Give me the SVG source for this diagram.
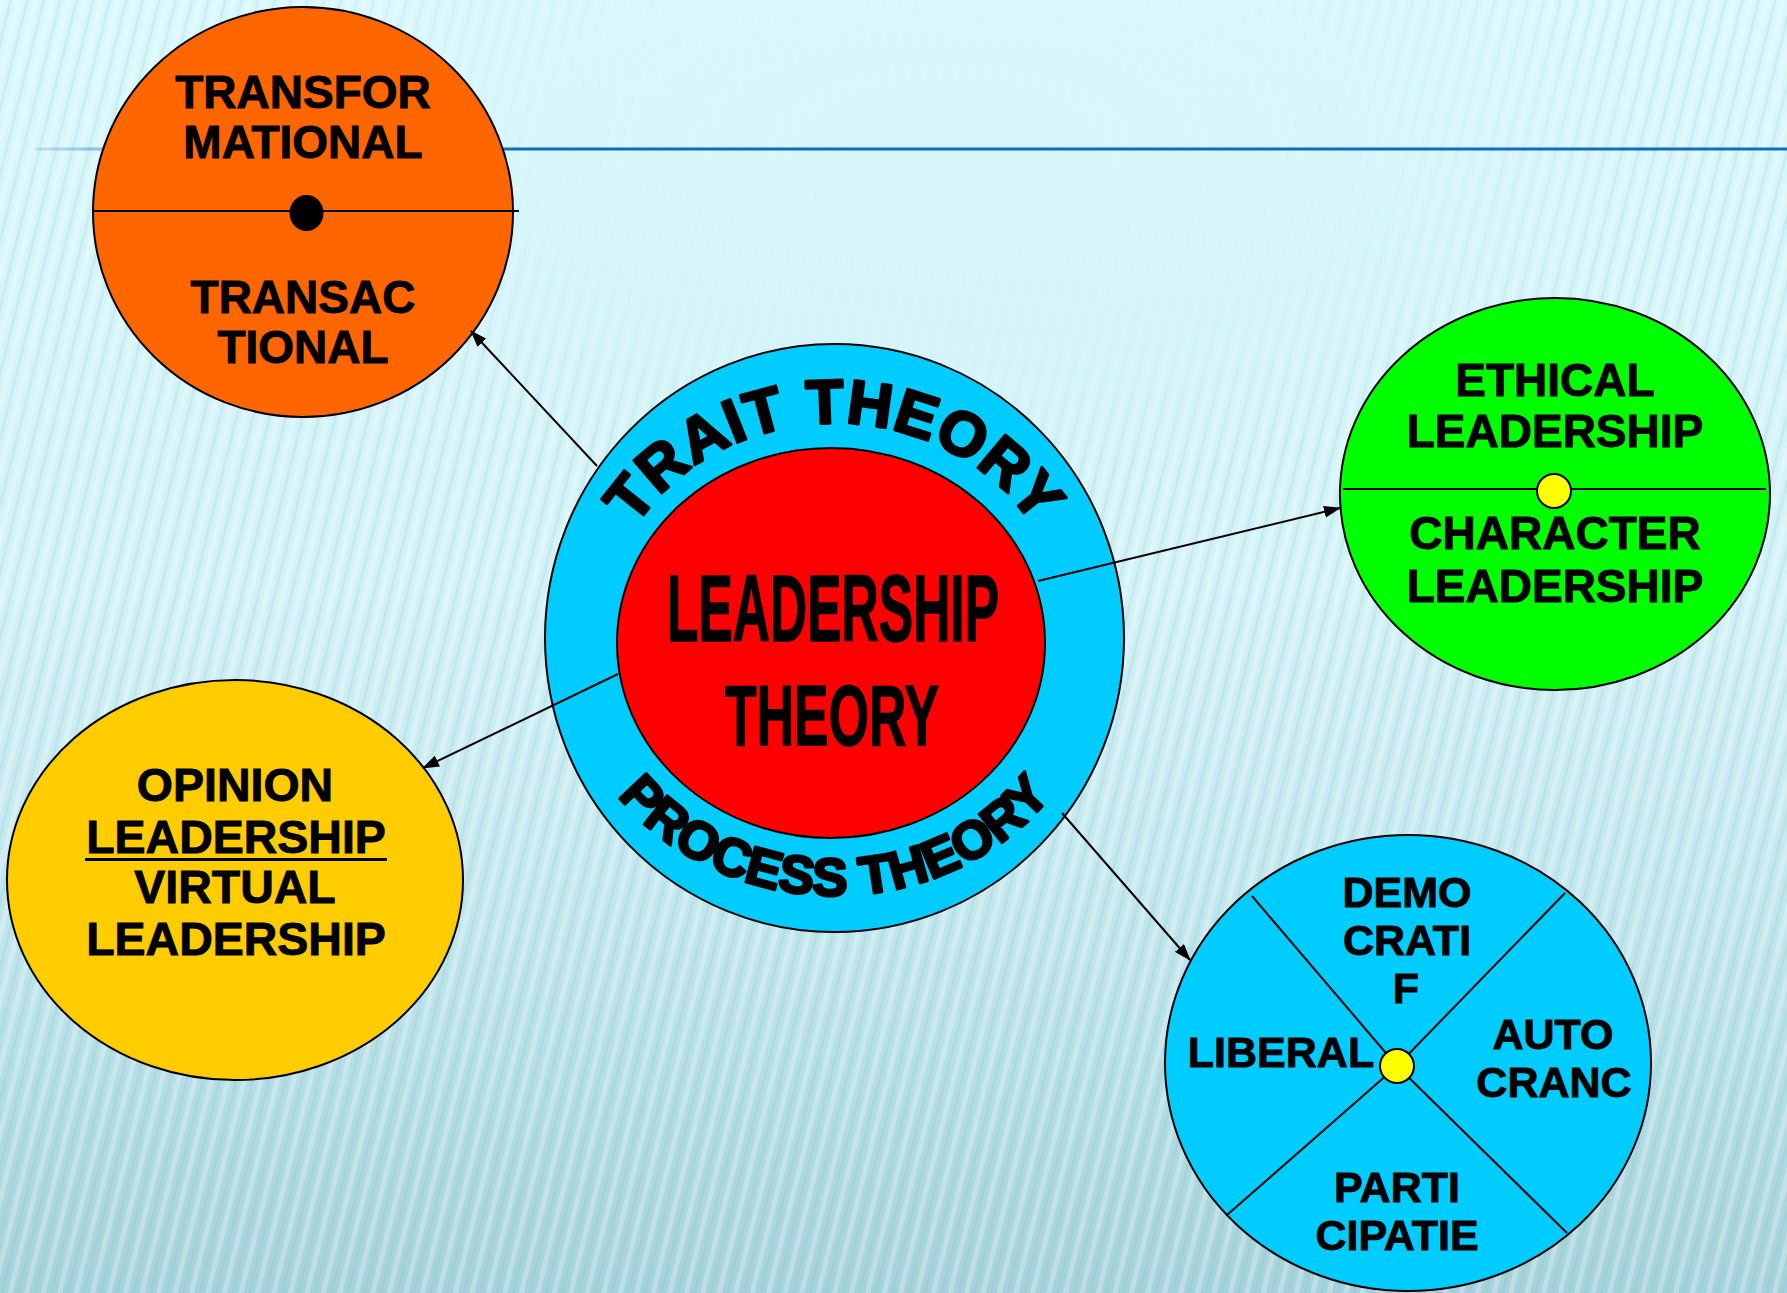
<svg xmlns="http://www.w3.org/2000/svg" width="1787" height="1293" viewBox="0 0 1787 1293">
  <style>
    .t { font-family: "Liberation Sans", Arial, sans-serif; font-weight: bold; fill: #000; stroke: #000; stroke-width: 0.9; }
    .n46 { font-size: 46px; text-anchor: middle; }
    .n43 { font-size: 43px; text-anchor: middle; }
    .shape { stroke: #000; stroke-width: 2; }
    .div { stroke: #000; stroke-width: 2; fill: none; }
    .conn { stroke: #000; stroke-width: 2; fill: none; marker-end: url(#ah); }
    .ring { font-family: "Liberation Sans", Arial, sans-serif; font-weight: bold; fill: #000; stroke: #000; stroke-width: 3; stroke-linejoin: round; }
    .big { font-family: "Liberation Sans Narrow", "Liberation Sans", Arial, sans-serif; font-weight: bold; fill: #000; stroke: #000; stroke-width: 1.5; }
  </style>
  <defs>
    <linearGradient id="bg" x1="0" y1="0" x2="0" y2="1">
      <stop offset="0" stop-color="#d9f8fb"/>
      <stop offset="0.45" stop-color="#d2f2f6"/>
      <stop offset="0.72" stop-color="#c0e6ec"/>
      <stop offset="1" stop-color="#a5d2da"/>
    </linearGradient>
    <pattern id="stripes" patternUnits="userSpaceOnUse" width="16" height="16" patternTransform="rotate(14)">
      <rect x="0" y="0" width="5" height="16" fill="#ffffff" opacity="0.4"/>
      <rect x="9" y="0" width="3" height="16" fill="#6fb4c2" opacity="0.2"/>
    </pattern>
    <radialGradient id="fadeMask" cx="0.5" cy="0.5" r="0.5">
      <stop offset="0" stop-color="#000"/>
      <stop offset="0.6" stop-color="#000" stop-opacity="0.85"/>
      <stop offset="1" stop-color="#000" stop-opacity="0"/>
    </radialGradient>
    <mask id="m1" maskUnits="userSpaceOnUse" x="0" y="0" width="1787" height="1293">
      <rect x="0" y="0" width="1787" height="1293" fill="#fff"/>
      <ellipse cx="950" cy="150" rx="720" ry="340" fill="url(#fadeMask)"/>
    </mask>
    <linearGradient id="hline" x1="35" y1="0" x2="1787" y2="0" gradientUnits="userSpaceOnUse">
      <stop offset="0" stop-color="#1469c7" stop-opacity="0.15"/>
      <stop offset="0.035" stop-color="#1469c7" stop-opacity="0.4"/>
      <stop offset="0.2" stop-color="#1469c7"/>
      <stop offset="1" stop-color="#1469c7"/>
    </linearGradient>
    <marker id="ah" markerWidth="17" markerHeight="12" refX="16" refY="6" orient="auto" markerUnits="userSpaceOnUse">
      <path d="M0,0 L17,6 L0,12 z" fill="#000"/>
    </marker>
    <path id="topArc" d="M 601.5 638 A 233 215 0 0 1 1067.5 638" fill="none"/>
    <path id="botArc" d="M 561 640 A 273.5 255.5 0 0 0 1108 640" fill="none"/>
  </defs>

  <!-- background -->
  <rect x="0" y="0" width="1787" height="1293" fill="url(#bg)"/>
  <rect x="0" y="0" width="1787" height="1293" fill="url(#stripes)" mask="url(#m1)" opacity="0.65"/>
  <line x1="35" y1="149" x2="1787" y2="149" stroke="url(#hline)" stroke-width="3"/>

  <!-- Orange node -->
  <g id="node-transformational">
    <ellipse class="shape" cx="303" cy="212" rx="210" ry="205" fill="#ff6600"/>
    <line class="div" x1="93" y1="211" x2="519" y2="211"/>
    <ellipse cx="306.5" cy="213" rx="17" ry="18" fill="#000"/>
    <text class="t n46" x="303" y="108">TRANSFOR</text>
    <text class="t n46" x="303" y="158">MATIONAL</text>
    <text class="t n46" x="303" y="313">TRANSAC</text>
    <text class="t n46" x="303" y="363">TIONAL</text>
  </g>

  <!-- Green node -->
  <g id="node-ethical">
    <ellipse class="shape" cx="1555" cy="494" rx="215" ry="196" fill="#00ff00"/>
    <line class="div" x1="1343" y1="489" x2="1766" y2="489"/>
    <circle class="shape" cx="1554" cy="491" r="17" fill="#ffff00"/>
    <text class="t n46" x="1555" y="396">ETHICAL</text>
    <text class="t n46" x="1555" y="447">LEADERSHIP</text>
    <text class="t n46" x="1555" y="549">CHARACTER</text>
    <text class="t n46" x="1555" y="602">LEADERSHIP</text>
  </g>

  <!-- Yellow node -->
  <g id="node-opinion">
    <ellipse class="shape" cx="235" cy="880" rx="228" ry="200" fill="#ffcc00"/>
    <text class="t n46" x="235" y="801" style="font-size:46.5px">OPINION</text>
    <text class="t n46" x="236" y="853" style="font-size:46.5px">LEADERSHIP</text>
    <line x1="85" y1="859.5" x2="387" y2="859.5" stroke="#000" stroke-width="3"/>
    <text class="t n46" x="235" y="903" style="font-size:46.5px">VIRTUAL</text>
    <text class="t n46" x="236" y="955" style="font-size:46.5px">LEADERSHIP</text>
  </g>

  <!-- Blue quadrant node -->
  <g id="node-styles">
    <ellipse class="shape" cx="1408" cy="1063" rx="243" ry="228" fill="#00ccff"/>
    <line class="div" x1="1397" y1="1066" x2="1252" y2="896"/>
    <line class="div" x1="1397" y1="1066" x2="1565" y2="893"/>
    <line class="div" x1="1397" y1="1066" x2="1567" y2="1233"/>
    <line class="div" x1="1397" y1="1066" x2="1227" y2="1215"/>
    <circle class="shape" cx="1397" cy="1066" r="17" fill="#ffff00"/>
    <text class="t n43" x="1407" y="907">DEMO</text>
    <text class="t n43" x="1407" y="955">CRATI</text>
    <text class="t n43" x="1406" y="1003">F</text>
    <text class="t n43" x="1281" y="1067">LIBERAL</text>
    <text class="t n43" x="1553" y="1049">AUTO</text>
    <text class="t n43" x="1554" y="1097">CRANC</text>
    <text class="t n43" x="1397" y="1202">PARTI</text>
    <text class="t n43" x="1397" y="1250">CIPATIE</text>
  </g>

  <!-- Central node -->
  <g id="node-leadership-theory">
    <ellipse class="shape" cx="834.5" cy="638" rx="289.5" ry="294" fill="#00ccff"/>
    <ellipse class="shape" cx="831" cy="643" rx="214" ry="195" fill="#ff0000"/>
    <text class="ring" font-size="62" letter-spacing="1" text-anchor="middle"><textPath href="#topArc" startOffset="50%">TRAIT THEORY</textPath></text>
    <text class="ring" font-size="53" letter-spacing="0" text-anchor="middle"><textPath href="#botArc" startOffset="50%">PROCESS THEORY</textPath></text>
    <text class="big" x="667" y="641" font-size="95" textLength="332" lengthAdjust="spacingAndGlyphs">LEADERSHIP</text>
    <text class="big" x="725" y="745" font-size="86" textLength="214" lengthAdjust="spacingAndGlyphs">THEORY</text>
  </g>

  <!-- Connectors -->
  <g id="connectors">
    <line class="conn" x1="597" y1="466" x2="471" y2="331"/>
    <line class="conn" x1="1038" y1="581" x2="1340" y2="508"/>
    <line class="conn" x1="618" y1="674" x2="423" y2="768"/>
    <line class="conn" x1="1062" y1="813" x2="1190" y2="960"/>
  </g>
</svg>
